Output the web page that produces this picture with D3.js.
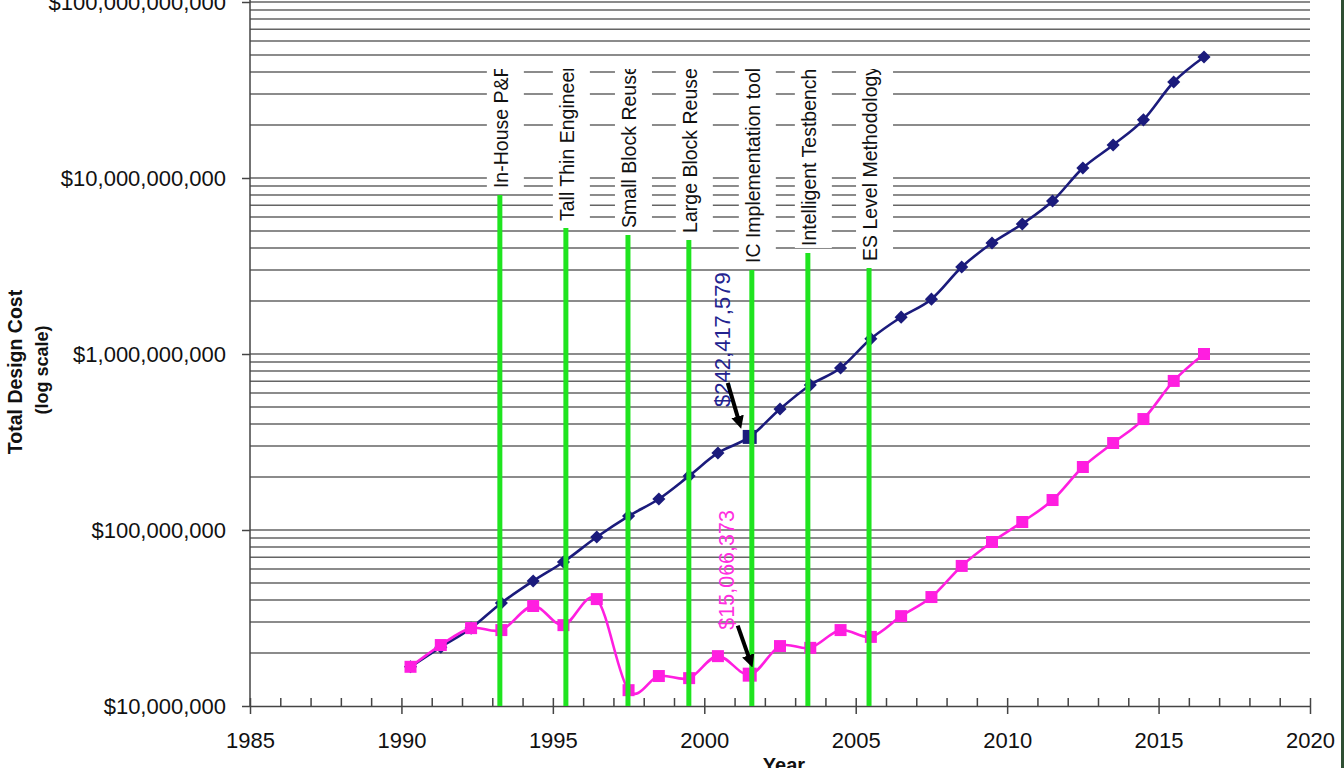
<!DOCTYPE html>
<html>
<head>
<meta charset="utf-8">
<script src="https://d3js.org/d3.v7.min.js"></script>
<style>
  body { margin: 0; background: #fff; }
  text { font-family: "Liberation Sans", Arial, Helvetica, sans-serif; }
</style>
</head>
<body>
<svg id="chart" width="1344" height="768"></svg>
<script>
// data
var years = [1990.3, 1991.3, 1992.3, 1993.3, 1994.35, 1995.35, 1996.45, 1997.5, 1998.5, 1999.5,
             2000.45, 2001.5, 2002.5, 2003.5, 2004.5, 2005.5, 2006.5, 2007.5, 2008.5, 2009.5,
             2010.5, 2011.5, 2012.5, 2013.5, 2014.5, 2015.5, 2016.5];
var costBlue = [1.67e7, 2.16e7, 2.77e7, 3.85e7, 5.13e7, 6.58e7, 9.12e7, 1.20e8, 1.50e8, 2.03e8,
                2.74e8, 3.38e8, 4.87e8, 6.67e8, 8.32e8, 1.22e9, 1.62e9, 2.05e9, 3.12e9, 4.27e9,
                5.48e9, 7.40e9, 1.14e10, 1.54e10, 2.14e10, 3.51e10, 4.87e10];
var costMagenta = [1.67e7, 2.22e7, 2.77e7, 2.70e7, 3.70e7, 2.88e7, 4.05e7, 1.23e7, 1.48e7, 1.44e7,
                   1.92e7, 1.507e7, 2.19e7, 2.14e7, 2.70e7, 2.47e7, 3.24e7, 4.16e7, 6.25e7, 8.55e7,
                   1.11e8, 1.48e8, 2.28e8, 3.12e8, 4.27e8, 7.03e8, 1.0e9];
var highlightIndex = 11;
var blueLabel = '$242,417,579';
var magentaLabel = '$15,066,373';

var innovations = ['In-House P&F', 'Tall Thin Engineer', 'Small Block Reuse', 'Large Block Reuse',
                   'IC Implementation tool', 'Intelligent Testbench', 'ES Level Methodology'];
var innovationYears = [1993.25, 1995.43, 1997.48, 1999.49, 2001.57, 2003.42, 2005.44];
var innovationTops = [8.0e9, 5.2e9, 4.75e9, 4.45e9, 3.0e9, 3.75e9, 3.08e9];

var yTicks = [1e7, 1e8, 1e9, 1e10, 1e11];
var yTickLabels = ['$10,000,000', '$100,000,000', '$1,000,000,000', '$10,000,000,000', '$100,000,000,000'];
var xMajor = [1985, 1990, 1995, 2000, 2005, 2010, 2015, 2020];

var svg = d3.select('#chart');
var x = d3.scaleLinear().domain([1985, 2020]).range([250, 1310]);
var y = d3.scaleLog().domain([1e7, 1e11]).range([706, 2]);

svg.append('defs').append('marker')
  .attr('id', 'arrowhead')
  .attr('viewBox', '0 0 10 10')
  .attr('refX', 6).attr('refY', 5)
  .attr('markerWidth', 3.2).attr('markerHeight', 3.2)
  .attr('markerUnits', 'strokeWidth')
  .attr('orient', 'auto')
  .append('path').attr('d', 'M 0 0 L 10 5 L 0 10 z').attr('fill', '#000');

// horizontal grid at every log step
svg.append('g').selectAll('line')
  .data(y.ticks().filter(function(d) { return d > 1e7; }))
  .enter().append('line')
    .attr('x1', x(1985)).attr('x2', x(2020))
    .attr('y1', function(d) { return y(d); })
    .attr('y2', function(d) { return y(d); })
    .attr('stroke', '#656565')
    .attr('stroke-width', 1.5);

// white boxes behind the rotated labels
svg.append('g').selectAll('rect')
  .data(innovations)
  .enter().append('rect')
    .attr('x', function(d, i) { return x(innovationYears[i]) - 13; })
    .attr('y', 64)
    .attr('width', 37)
    .attr('height', function(d, i) { return y(innovationTops[i]) - 5 - 64; })
    .attr('fill', '#fff');

// axes
var yAxis = d3.axisLeft(y).tickValues(yTicks)
  .tickFormat(function(d, i) { return yTickLabels[i]; })
  .tickSize(8).tickPadding(16);
var gy = svg.append('g').attr('transform', 'translate(' + x(1985) + ',0)').call(yAxis);
gy.select('.domain').attr('stroke', '#444').attr('stroke-width', 1.5).attr('d', 'M0,0V' + y(1e7));
gy.selectAll('.tick line').attr('stroke', '#444').attr('stroke-width', 1.5);
gy.selectAll('.tick text').attr('font-size', 22).attr('fill', '#111')
  .style('font-family', '"Liberation Sans", Arial, sans-serif');

var gxMinor = svg.append('g').attr('transform', 'translate(0,' + y(1e7) + ')')
  .call(d3.axisTop(x).tickValues(d3.range(1985, 2021)).tickSize(8).tickFormat(''));
gxMinor.select('.domain').remove();
gxMinor.selectAll('.tick line').attr('stroke', '#444').attr('stroke-width', 1.5);

var gx = svg.append('g').attr('transform', 'translate(0,' + y(1e7) + ')')
  .call(d3.axisBottom(x).tickValues(xMajor).tickFormat(d3.format('d')).tickSize(8).tickSizeOuter(0).tickPadding(18));
gx.select('.domain').attr('stroke', '#444').attr('stroke-width', 1.5);
gx.selectAll('.tick line').attr('stroke', '#444').attr('stroke-width', 1.5);
gx.selectAll('.tick text').attr('font-size', 22).attr('fill', '#111')
  .style('font-family', '"Liberation Sans", Arial, sans-serif');

// axis titles
svg.append('text').attr('x', 784).attr('y', 772).attr('text-anchor', 'middle')
  .attr('font-size', 20).attr('font-weight', 'bold').attr('fill', '#111').text('Year');
svg.append('text').attr('transform', 'translate(15,372) rotate(-90)').attr('dy', '0.35em')
  .attr('text-anchor', 'middle').attr('font-size', 19.5).attr('font-weight', 'bold').attr('fill', '#111')
  .text('Total Design Cost');
svg.append('text').attr('transform', 'translate(42,370) rotate(-90)').attr('dy', '0.35em')
  .attr('text-anchor', 'middle').attr('font-size', 18).attr('font-weight', 'bold').attr('fill', '#111')
  .text('(log scale)');

// series
var line = d3.line().curve(d3.curveCatmullRom.alpha(0))
  .x(function(d, i) { return x(years[i]); })
  .y(function(d) { return y(d); });

var blue = '#1b1b7c', magenta = '#ff1ee0';

svg.append('path').datum(costBlue).attr('d', line)
  .attr('fill', 'none').attr('stroke', blue).attr('stroke-width', 2.6);
svg.append('g').selectAll('path')
  .data(costBlue)
  .enter().append('path')
    .attr('d', function(d, i) { return d3.symbol().type(d3.symbolSquare).size(i === highlightIndex ? 196 : 86)(); })
    .attr('transform', function(d, i) {
      return 'translate(' + x(years[i]) + ',' + y(d) + ')' + (i === highlightIndex ? '' : ' rotate(45)');
    })
    .attr('fill', blue);

svg.append('path').datum(costMagenta).attr('d', line)
  .attr('fill', 'none').attr('stroke', magenta).attr('stroke-width', 2.6);
svg.append('g').selectAll('path')
  .data(costMagenta)
  .enter().append('path')
    .attr('d', function(d, i) { return d3.symbol().type(d3.symbolSquare).size(i === highlightIndex ? 196 : 144)(); })
    .attr('transform', function(d, i) { return 'translate(' + x(years[i]) + ',' + y(d) + ')'; })
    .attr('fill', magenta);

// innovation bars
svg.append('g').selectAll('line')
  .data(innovations)
  .enter().append('line')
    .attr('x1', function(d, i) { return x(innovationYears[i]); })
    .attr('x2', function(d, i) { return x(innovationYears[i]); })
    .attr('y1', function(d, i) { return y(innovationTops[i]); })
    .attr('y2', y(1e7))
    .attr('stroke', '#1fe41f')
    .attr('stroke-width', 5);

// rotated labels, clipped at the top of their boxes
svg.select('defs').append('clipPath').attr('id', 'labelClip')
  .append('rect').attr('x', 0).attr('y', 69).attr('width', 1344).attr('height', 700);
svg.append('g').attr('clip-path', 'url(#labelClip)').selectAll('text')
  .data(innovations)
  .enter().append('text')
    .attr('transform', function(d, i) {
      return 'translate(' + (x(innovationYears[i]) + 1) + ',' + (y(innovationTops[i]) - 7) + ') rotate(-90)';
    })
    .attr('dy', '0.35em')
    .attr('font-size', 19.5)
    .attr('fill', '#111')
    .text(function(d) { return d; });

// data callouts
var hx = x(years[highlightIndex]);
var by = y(costBlue[highlightIndex]);
var my = y(costMagenta[highlightIndex]);

svg.append('text').attr('transform', 'translate(' + (hx - 27) + ',' + (by - 30) + ') rotate(-90)')
  .attr('dy', '0.35em').attr('font-size', 22).attr('fill', '#23238f').text(blueLabel);
svg.append('text').attr('transform', 'translate(' + (hx - 23) + ',' + (my - 45) + ') rotate(-90)')
  .attr('dy', '0.35em').attr('font-size', 21.5).attr('fill', '#ff2ee0').text(magentaLabel);

svg.append('line')
  .attr('x1', hx - 22).attr('y1', by - 54).attr('x2', hx - 10).attr('y2', by - 13)
  .attr('stroke', '#000').attr('stroke-width', 4).attr('marker-end', 'url(#arrowhead)');
svg.append('line')
  .attr('x1', hx - 12).attr('y1', my - 49).attr('x2', hx + 1).attr('y2', my - 12)
  .attr('stroke', '#000').attr('stroke-width', 4).attr('marker-end', 'url(#arrowhead)');

// window edge on the right
svg.append('rect').attr('x', 1341).attr('y', 0).attr('width', 3).attr('height', 768).attr('fill', '#2f4f33');
</script>
</body>
</html>
